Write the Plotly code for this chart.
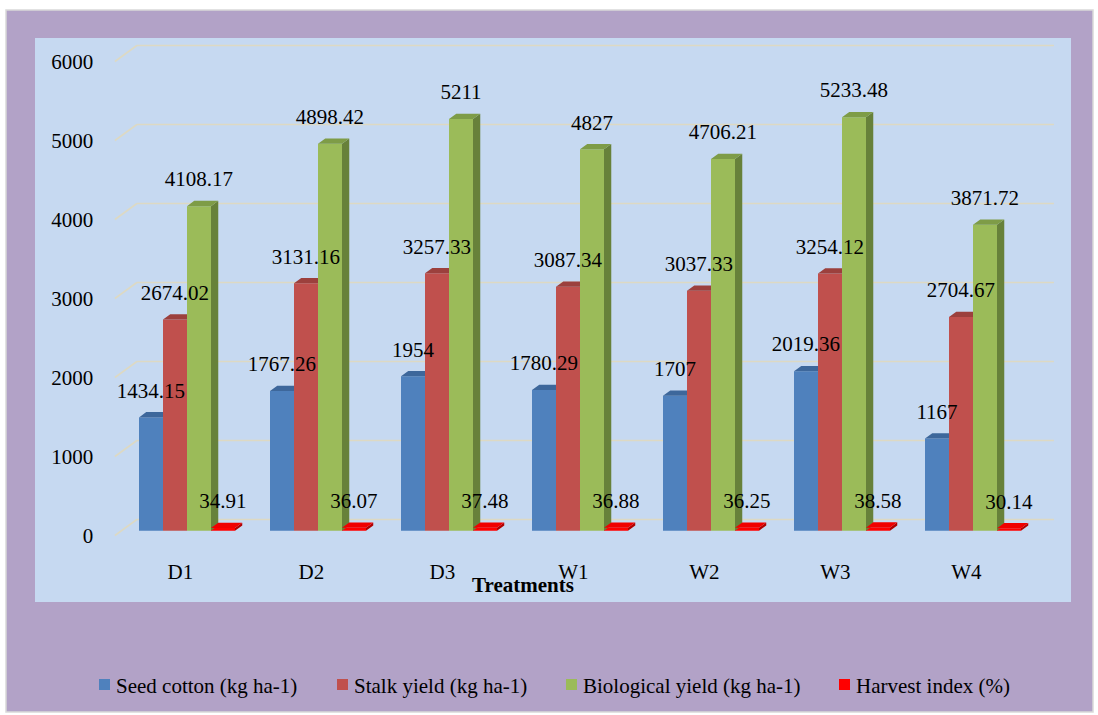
import plotly.graph_objects as go

# ---------------- data ----------------
treatments = ["D1", "D2", "D3", "W1", "W2", "W3", "W4"]
seed_cotton = [1434.15, 1767.26, 1954, 1780.29, 1707, 2019.36, 1167]
stalk_yield = [2674.02, 3131.16, 3257.33, 3087.34, 3037.33, 3254.12, 2704.67]
biological_yield = [4108.17, 4898.42, 5211, 4827, 4706.21, 5233.48, 3871.72]
harvest_index = [34.91, 36.07, 37.48, 36.88, 36.25, 38.58, 30.14]
series_names = ["Seed cotton (kg ha-1)", "Stalk yield (kg ha-1)",
                "Biological yield (kg ha-1)", "Harvest index (%)"]
y_ticks = [0, 1000, 2000, 3000, 4000, 5000, 6000]

# ---------------- style / geometry ----------------
series = [seed_cotton, stalk_yield, biological_yield, harvest_index]
front_col = ["#4F81BD", "#C0504D", "#9BBB59", "#FF0000"]
top_col = ["#3D679B", "#9C403D", "#7E9C47", "#F00000"]
side_col = ["#385F8E", "#8E3B39", "#67813A", "#B00000"]
FONT = "Liberation Serif, Times New Roman, serif"

W, H = 1098, 715
CAT_PX = 131.0        # pixels per category
X0_PX = 114.9         # pixel of x = -0.5 (front plane)
Y0_PX = 535.5         # pixel of y = 0 (front plane)
PPU = 0.079           # pixels per value unit
XR = [-0.55, 6.75]
YR = [-250, 6450]


def xpx(x):
    return X0_PX + (x + 0.5) * CAT_PX


def ypx(y):
    return Y0_PX - y * PPU


x_domain = [xpx(XR[0]) / W, xpx(XR[1]) / W]
y_domain = [1 - ypx(YR[0]) / H, 1 - ypx(YR[1]) / H]

DXU = 22.0 / CAT_PX       # full depth offset, x units
DYU = 16.0 / PPU          # full depth offset, y units
D0, D1 = 0.30, 0.63       # bar depth (front, back)
BW = 24.0 / CAT_PX        # bar width, x units
LAB_OFF = 25.0 / PPU      # label offset above bar top
base = D0 * DYU
ddx = (D1 - D0) * DXU
ddy = (D1 - D0) * DYU
n = len(treatments)
idx = list(range(n))

fig = go.Figure()

# front faces as bars
for k, vals in enumerate(series):
    off = D0 * DXU + (k - 2) * BW
    fig.add_trace(go.Bar(
        x=idx, y=vals, base=base, offset=off, width=BW,
        marker=dict(color=front_col[k], line=dict(width=0)),
        name=series_names[k], showlegend=False,
        hovertemplate="%{customdata}<br>" + series_names[k] + ": %{y}<extra></extra>",
        customdata=treatments,
    ))

# top and side faces (computed from the values)
for k, vals in enumerate(series):
    off = D0 * DXU + (k - 2) * BW
    nxt = series[k + 1] if k + 1 < len(series) else None
    tx, ty, sx, sy = [], [], [], []
    for i, v in enumerate(vals):
        xl = i + off
        xr = xl + BW
        top = base + v
        hidden = nxt is not None and nxt[i] >= v
        if hidden:
            tx += [xl, xr, xr, xl + ddx, xl, None]
            ty += [top, top, top + ddy, top + ddy, top, None]
        else:
            tx += [xl, xr, xr + ddx, xl + ddx, xl, None]
            ty += [top, top, top + ddy, top + ddy, top, None]
            sx += [xr, xr + ddx, xr + ddx, xr, xr, None]
            sy += [base, base + ddy, top + ddy, top, base, None]
    if sx:
        fig.add_trace(go.Scatter(x=sx, y=sy, mode="lines", fill="toself",
                                 fillcolor=side_col[k], line=dict(width=0),
                                 hoverinfo="skip", showlegend=False))
    fig.add_trace(go.Scatter(x=tx, y=ty, mode="lines", fill="toself",
                             fillcolor=top_col[k], line=dict(width=0),
                             hoverinfo="skip", showlegend=False))

# data labels
for k, vals in enumerate(series):
    off = D0 * DXU + (k - 2) * BW
    fig.add_trace(go.Scatter(
        x=[i + off + BW / 2 for i in idx],
        y=[base + v + LAB_OFF for v in vals],
        text=[str(v) for v in vals], mode="text",
        textposition="middle center",
        textfont=dict(family=FONT, size=21, color="black"),
        hoverinfo="skip", showlegend=False, cliponaxis=False,
    ))

shapes = []
# outer frame and inner panel
shapes.append(dict(type="rect", xref="paper", yref="paper", layer="below",
                   x0=6 / W, x1=1093 / W, y0=1 - 712 / H, y1=1 - 10 / H,
                   fillcolor="#B2A2C7", line=dict(color="#D9D9D9", width=1.5)))
shapes.append(dict(type="rect", xref="paper", yref="paper", layer="below",
                   x0=35 / W, x1=1071 / W, y0=1 - 602 / H, y1=1 - 38 / H,
                   fillcolor="#C6D9F1", line=dict(width=0)))
# 3D gridlines
for t in y_ticks:
    shapes.append(dict(type="line", xref="x", yref="y", layer="below",
                       x0=-0.5, y0=t, x1=-0.5 + DXU, y1=t + DYU,
                       line=dict(color="#DDD9C3", width=1.6)))
    shapes.append(dict(type="line", xref="x", yref="y", layer="below",
                       x0=-0.5 + DXU, y0=t + DYU, x1=n - 0.5 + DXU, y1=t + DYU,
                       line=dict(color="#DDD9C3", width=1.6)))

# legend (manual)
leg_sq_px = [99, 337, 566, 839]
annotations = []
for k, name in enumerate(series_names):
    x0 = leg_sq_px[k]
    shapes.append(dict(type="rect", xref="paper", yref="paper",
                       x0=x0 / W, x1=(x0 + 11) / W, y0=1 - 690 / H, y1=1 - 679 / H,
                       fillcolor=front_col[k], line=dict(width=0)))
    annotations.append(dict(xref="paper", yref="paper", x=(x0 + 15) / W, y=1 - 686 / H,
                            text=name, showarrow=False, xanchor="left", yanchor="middle",
                            font=dict(family=FONT, size=21, color="black")))

annotations.append(dict(xref="paper", yref="paper", x=523 / W, y=1 - 585 / H,
                        text="<b>Treatments</b>", showarrow=False,
                        xanchor="center", yanchor="middle",
                        font=dict(family=FONT, size=21, color="black")))

fig.update_layout(
    width=W, height=H, autosize=False,
    margin=dict(l=0, r=0, t=0, b=0, pad=0),
    paper_bgcolor="white", plot_bgcolor="rgba(0,0,0,0)",
    barmode="overlay", showlegend=False,
    shapes=shapes, annotations=annotations,
    font=dict(family=FONT, size=21, color="black"),
    xaxis=dict(domain=x_domain, range=XR, tickmode="array", tickvals=idx,
               ticktext=treatments, showgrid=False, zeroline=False, showline=False,
               ticks="", ticklabelstandoff=2,
               tickfont=dict(family=FONT, size=21, color="black")),
    yaxis=dict(domain=y_domain, range=YR, tickmode="array", tickvals=y_ticks,
               ticktext=[str(t) for t in y_ticks],
               showgrid=False, zeroline=False, showline=False, ticks="",
               ticklabelstandoff=14,
               tickfont=dict(family=FONT, size=21, color="black")),
)

fig.write_html("out.html")
